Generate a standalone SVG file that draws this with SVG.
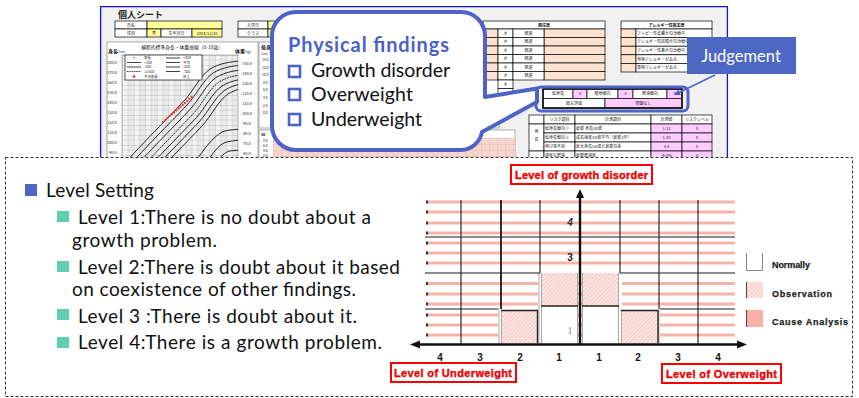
<svg xmlns="http://www.w3.org/2000/svg" width="859" height="398" viewBox="0 0 859 398">
<style>
  .jp{font-family:"Noto Sans CJK JP","Noto Sans",sans-serif;fill:#222}
  .t4{font-size:4px}
  .t5{font-size:4.8px}
  .c{text-anchor:middle}
  .cell{stroke:#000;stroke-width:0.7}
  .wh{fill:#fff}
  .yl{fill:#ffff99}
  .pc{fill:#fde3cf}
  .pk{fill:#ffccff}
  .body{font-family:Lato,"Open Sans",sans-serif;font-size:19px;fill:#111}
  .co{font-family:Lato,"Open Sans",sans-serif;font-size:19.5px;fill:#111}
  .chk{fill:#fff;stroke:#4d63c6;stroke-width:2.6}
  .stripe{stroke:#f7b3a9;stroke-width:3.2}
  .tick{stroke:#333;stroke-width:3.2}
  .gl{stroke:#1a1a1a;stroke-width:1.1;fill:none}
  .gray{stroke:#a8a8a8;stroke-width:1;fill:none}
  .axlab{font-family:"Liberation Sans",Arial,sans-serif;font-weight:bold;font-size:10px;fill:#111;text-anchor:middle}
  .redbox{fill:#fff;stroke:#ff0000;stroke-width:2}
  .redtx{font-family:"Liberation Sans",Arial,sans-serif;font-weight:bold;font-size:11px;fill:#ee0000;stroke:#ee0000;stroke-width:0.35}
  .leg{font-family:"Liberation Sans",Arial,sans-serif;font-weight:bold;font-size:9px;fill:#222;stroke:#222;stroke-width:0.25}
  .curve{fill:none;stroke:#111;stroke-width:0.9}
</style>
<defs>
  <clipPath id="sheetClip"><rect x="99" y="5" width="631" height="152"/></clipPath>
  <clipPath id="plotClip"><rect x="122" y="55" width="116" height="105"/></clipPath>
  <pattern id="chartGrid" width="11.6" height="10" patternUnits="userSpaceOnUse" x="122" y="55">
    <rect width="11.6" height="10" fill="#f4f4f4"/>
    <rect x="5.8" width="5.8" height="10" fill="#e9e9e9"/>
    <path d="M0,0 V10 M0,0 H11.6" stroke="#9a9a9a" stroke-width="0.6"/>
    <path d="M5.8,0 V10 M0,5 H11.6" stroke="#bdbdbd" stroke-width="0.4"/>
  </pattern>
  <pattern id="pinkGrid" width="8" height="6" patternUnits="userSpaceOnUse" x="273" y="138">
    <rect width="8" height="6" fill="#f7d6cf"/>
    <path d="M0,0 V6 M0,0 H8" stroke="#dba59c" stroke-width="0.6"/>
  </pattern>
  <pattern id="hatch" width="3" height="3" patternUnits="userSpaceOnUse" patternTransform="rotate(45)">
    <rect width="3" height="3" fill="#fde6e2"/>
    <line x1="0" y1="0" x2="0" y2="3" stroke="#f1b0a6" stroke-width="1.1"/>
  </pattern>
  <marker id="tip" viewBox="0 0 6 6" refX="5" refY="3" markerWidth="4" markerHeight="4" orient="auto">
    <path d="M0,0 L6,3 L0,6 Z" fill="#4d63c6"/>
  </marker>
</defs>

<rect width="859" height="398" fill="#fff"/>

<!-- individual record sheet (spreadsheet) -->
<g id="sheet" clip-path="url(#sheetClip)">
  <rect x="100" y="6" width="628" height="155" fill="#f1f1f1"/>
  <path d="M100.6,170 V6.6 H727.4 V170" fill="none" stroke="#1414e0" stroke-width="1.3"/>
  <text x="118" y="18" class="jp" font-size="9" font-weight="bold">個人シート</text>

  <g class="cell">
    <rect x="115" y="21" width="32" height="8" class="wh"/>
    <rect x="147" y="21" width="75" height="8" class="yl"/>
    <rect x="115" y="29" width="32" height="8" class="wh"/>
    <rect x="147" y="29" width="14" height="8" class="yl"/>
    <rect x="161" y="29" width="31" height="8" class="wh"/>
    <rect x="192" y="29" width="30" height="8" class="yl"/>
    <rect x="238" y="21" width="30" height="8" class="wh"/>
    <rect x="268" y="21" width="30" height="8" class="yl"/>
    <rect x="238" y="29" width="30" height="8" class="wh"/>
    <rect x="268" y="29" width="30" height="8" class="yl"/>
  </g>
  <g class="jp t4 c">
    <text x="131" y="26.5">氏名</text>
    <text x="131" y="34.5">性別</text>
    <text x="154" y="34.5">男</text>
    <text x="176.5" y="34.5">生年月日</text>
    <text x="207" y="34.5">2004/12/20</text>
    <text x="253" y="26.5">入学日</text>
    <text x="253" y="34.5">クラス</text>
  </g>

  <!-- growth chart panel -->
  <rect x="107" y="42" width="151" height="125" fill="#fff" stroke="#8a8a8a" stroke-width="0.7"/>
  <text x="182" y="49" class="jp t5 c">横断的標準身長・体重曲線（0-18歳）</text>
  <text x="108" y="53" class="jp" font-size="5" font-weight="bold">身長<tspan font-size="3.5" font-weight="normal">(cm)</tspan></text>
  <text x="235" y="53" class="jp" font-size="5" font-weight="bold">体重<tspan font-size="3.5" font-weight="normal">(kg)</tspan></text>
  <rect x="122" y="55" width="116" height="110" fill="url(#chartGrid)" stroke="#888" stroke-width="0.6"/>
  <g class="jp t4">
    <text x="107" y="64">180.0</text><text x="107" y="74">170.0</text><text x="107" y="84">160.0</text>
    <text x="107" y="94">150.0</text><text x="107" y="104">140.0</text><text x="107" y="114">130.0</text>
    <text x="107" y="124">120.0</text><text x="107" y="134">110.0</text><text x="107" y="144">100.0</text>
    <text x="109" y="154">90.0</text>
    <text x="242" y="65">150.0</text><text x="242" y="75">140.0</text><text x="242" y="85">130.0</text>
    <text x="242" y="95">120.0</text><text x="242" y="105">110.0</text><text x="242" y="115">100.0</text>
    <text x="243" y="125">90.0</text><text x="243" y="135">80.0</text><text x="243" y="145">70.0</text>
    <text x="243" y="155">60.0</text>
  </g>
  <g clip-path="url(#plotClip)">
    <g class="curve">
      <path id="hc" d="M126,162 C140,146 165,121 184,101 C194,90 200,76 210,69 C220,63 230,62 240,61"/>
      <use href="#hc" transform="translate(3,4)"/>
      <use href="#hc" transform="translate(6,8.5)"/>
      <use href="#hc" transform="translate(9,13)" stroke-dasharray="2 0.8"/>
      <use href="#hc" transform="translate(12,17)"/>
      <use href="#hc" transform="translate(15,21)"/>
      <use href="#hc" transform="translate(18,25)"/>
      <path d="M195,162 C205,148 212,138 222,132 C227,130 232,130 240,129"/>
      <path d="M207,162 C213,153 218,146 224,143 C229,141 233,141 240,140"/>
      <path d="M217,162 C221,156 225,152 230,151 L240,150"/>
    </g>
    <g fill="#ff2020">
      <circle cx="163" cy="122" r="1.1"/><circle cx="165.2" cy="120" r="1.1"/><circle cx="167.4" cy="118" r="1.1"/>
      <circle cx="169.6" cy="116.1" r="1.1"/><circle cx="171.8" cy="114.2" r="1.1"/><circle cx="174" cy="112.4" r="1.1"/>
      <circle cx="176.2" cy="110.5" r="1.1"/><circle cx="178.4" cy="108.6" r="1.1"/><circle cx="180.6" cy="106.7" r="1.1"/>
      <circle cx="182.8" cy="104.8" r="1.1"/><circle cx="185" cy="103" r="1.1"/><circle cx="187.2" cy="101" r="1.1"/>
      <circle cx="189.4" cy="99" r="1.1"/><circle cx="191.6" cy="97" r="1.1"/>
    </g>
  </g>
  <!-- chart legend -->
  <rect x="125" y="55" width="77" height="25" fill="#fff" stroke="#111" stroke-width="0.7"/>
  <g stroke="#111" stroke-width="0.8">
    <path d="M127,62.5 H141 M127,67 H141 M166,58 H180 M166,62.5 H180 M166,67 H180 M166,71.5 H180"/>
    <path d="M127,71.5 H141" stroke-dasharray="1.5 0.8"/>
  </g>
  <circle cx="134" cy="57.5" r="0.8" fill="#ff2020"/>
  <circle cx="134" cy="76.5" r="1.3" fill="#ff2020"/>
  <g class="jp" font-size="3.4">
    <text x="144" y="59">身長</text><text x="144" y="63.7">+1SD</text><text x="144" y="68.2">-1SD</text>
    <text x="144" y="72.7">-2.5SD</text><text x="144" y="77.7">予測身長</text>
    <text x="183" y="59">+2SD</text><text x="183" y="63.7">平均</text><text x="183" y="68.2">-2SD</text>
    <text x="183" y="72.7">-3SD</text><text x="183" y="77.7">体重</text>
  </g>

  <!-- short stature panel -->
  <rect x="259" y="42" width="240" height="86" fill="#fff" stroke="#8a8a8a" stroke-width="0.7"/>
  <text x="261" y="49" class="jp" font-size="5" font-weight="bold">低身長</text>
  <g class="jp" font-size="3.4">
    <text x="261" y="55">(cm)</text>
    <text x="262" y="61">14.0</text><text x="262" y="69">12.0</text><text x="262" y="76">10.0</text>
    <text x="263" y="84">8.0</text><text x="263" y="91">6.0</text><text x="263" y="99">4.0</text>
    <text x="263" y="107">2.0</text><text x="263" y="114">0.0</text>
  </g>
  <rect x="259" y="130" width="256" height="40" fill="#fff" stroke="#8a8a8a" stroke-width="0.7"/>
  <g class="jp" font-size="3.4">
    <text x="261" y="136" font-weight="bold">SD</text>
    <text x="263" y="142">8.0</text><text x="263" y="147">6.0</text><text x="263" y="152">4.0</text><text x="263" y="157">2.0</text>
  </g>
  <rect x="273" y="138" width="242" height="30" fill="url(#pinkGrid)"/>
  <g fill="#2fb04a"><rect x="311.5" y="150" width="1.4" height="2"/><rect x="328.5" y="150" width="1.4" height="2"/></g>

  <!-- medical history table -->
  <g class="cell">
    <rect x="483" y="21" width="122" height="8" class="wh"/>
    <g class="pc">
      <rect x="483" y="29" width="15" height="8.5"/><rect x="483" y="37.5" width="15" height="8.5"/>
      <rect x="483" y="46" width="15" height="8.5"/><rect x="483" y="54.5" width="15" height="8.5"/>
      <rect x="483" y="63" width="15" height="8.5"/><rect x="483" y="71.5" width="15" height="8.5"/>
      <rect x="544" y="29" width="61" height="8.5"/><rect x="544" y="37.5" width="61" height="8.5"/>
      <rect x="544" y="46" width="61" height="8.5"/><rect x="544" y="54.5" width="61" height="8.5"/>
      <rect x="544" y="63" width="61" height="8.5"/><rect x="544" y="71.5" width="61" height="8.5"/>
    </g>
    <g class="wh">
      <rect x="498" y="29" width="15" height="8.5"/><rect x="498" y="37.5" width="15" height="8.5"/>
      <rect x="498" y="46" width="15" height="8.5"/><rect x="498" y="54.5" width="15" height="8.5"/>
      <rect x="498" y="63" width="15" height="8.5"/><rect x="498" y="71.5" width="15" height="8.5"/>
      <rect x="498" y="80" width="15" height="8.5"/><rect x="498" y="88.5" width="15" height="8.5"/>
      <rect x="513" y="29" width="31" height="8.5"/><rect x="513" y="37.5" width="31" height="8.5"/>
      <rect x="513" y="46" width="31" height="8.5"/><rect x="513" y="54.5" width="31" height="8.5"/>
      <rect x="513" y="63" width="31" height="8.5"/><rect x="513" y="71.5" width="31" height="8.5"/>
    </g>
  </g>
  <g class="jp t4 c">
    <text x="544" y="26.5" font-weight="bold">既往歴</text>
    <text x="505.5" y="34.7">オ</text><text x="528.5" y="34.7">経過</text>
    <text x="505.5" y="43.2">オ</text><text x="528.5" y="43.2">経過</text>
    <text x="505.5" y="51.7">オ</text><text x="528.5" y="51.7">経過</text>
    <text x="505.5" y="60.2">オ</text><text x="528.5" y="60.2">経過</text>
    <text x="505.5" y="68.7">オ</text><text x="528.5" y="68.7">経過</text>
    <text x="505.5" y="77.2">オ</text><text x="528.5" y="77.2">経過</text>
    <text x="505.5" y="85.7">オ</text>
  </g>

  <!-- allergy table -->
  <g class="cell">
    <rect x="621" y="21" width="91" height="8" class="wh"/>
    <g class="pc">
      <rect x="621" y="29" width="15" height="8.6"/><rect x="621" y="37.6" width="15" height="8.6"/>
      <rect x="621" y="46.2" width="15" height="8.6"/><rect x="621" y="54.8" width="15" height="8.6"/>
      <rect x="621" y="63.4" width="15" height="8.6"/>
    </g>
    <g class="wh">
      <rect x="636" y="29" width="76" height="8.6"/><rect x="636" y="37.6" width="76" height="8.6"/>
      <rect x="636" y="46.2" width="76" height="8.6"/><rect x="636" y="54.8" width="76" height="8.6"/>
      <rect x="636" y="63.4" width="76" height="8.6"/>
    </g>
  </g>
  <g class="jp t4">
    <text x="666.5" y="26.5" font-weight="bold" text-anchor="middle">アレルギー性疾患歴</text>
    <text x="637" y="34.8">アトピー性皮膚炎の治療中</text>
    <text x="637" y="43.4">アレルギー性結膜炎の治療中</text>
    <text x="637" y="52">アレルギー性鼻炎の治療中</text>
    <text x="637" y="60.6">食物アレルギーがある</text>
    <text x="637" y="69.2">薬物アレルギーがある</text>
  </g>

  <!-- judgement table -->
  <g class="cell">
    <rect x="543" y="89" width="30" height="9.5" class="wh"/>
    <rect x="573" y="89" width="14" height="9.5" class="pk"/>
    <rect x="587" y="89" width="31" height="9.5" class="wh"/>
    <rect x="618" y="89" width="15" height="9.5" class="pk"/>
    <rect x="633" y="89" width="34" height="9.5" class="wh"/>
    <rect x="667" y="89" width="15" height="9.5" class="pk"/>
    <rect x="543" y="98.5" width="62" height="9.5" class="wh"/>
    <rect x="605" y="98.5" width="77" height="9.5" class="pk"/>
  </g>
  <rect x="543" y="89" width="139" height="19" fill="none" stroke="#000" stroke-width="1.5"/>
  <g class="jp t4 c">
    <text x="558" y="95.2">低身長</text><text x="580" y="95.2">0</text>
    <text x="602.5" y="95.2">痩身傾向</text><text x="625.5" y="95.2">0</text>
    <text x="650" y="95.2">肥満傾向</text><text x="674.5" y="95.2">0</text>
    <text x="574" y="104.7">総合評価</text><text x="643.5" y="104.7">問題なし</text>
  </g>

  <!-- risk table -->
  <g class="cell">
    <rect x="529" y="115" width="15" height="9" class="wh"/>
    <rect x="544" y="115" width="31" height="9" class="wh"/>
    <rect x="575" y="115" width="76" height="9" class="wh"/>
    <rect x="651" y="115" width="31" height="9" class="wh"/>
    <rect x="682" y="115" width="30" height="9" class="wh"/>
    <rect x="529" y="124" width="15" height="27" class="wh"/>
    <rect x="544" y="124" width="31" height="9" class="wh"/>
    <rect x="575" y="124" width="76" height="9" class="wh"/>
    <rect x="651" y="124" width="31" height="9" class="pk"/>
    <rect x="682" y="124" width="30" height="9" class="pk"/>
    <rect x="544" y="133" width="31" height="9" class="wh"/>
    <rect x="575" y="133" width="76" height="9" class="wh"/>
    <rect x="651" y="133" width="31" height="9" class="pk"/>
    <rect x="682" y="133" width="30" height="9" class="pk"/>
    <rect x="544" y="142" width="31" height="9" class="wh"/>
    <rect x="575" y="142" width="76" height="9" class="wh"/>
    <rect x="651" y="142" width="31" height="9" class="pk"/>
    <rect x="682" y="142" width="30" height="9" class="pk"/>
    <rect x="529" y="151" width="15" height="9" class="wh"/>
    <rect x="544" y="151" width="31" height="9" class="wh"/>
    <rect x="575" y="151" width="76" height="9" class="wh"/>
    <rect x="651" y="151" width="31" height="9" class="pk"/>
    <rect x="682" y="151" width="30" height="9" class="pk"/>
  </g>
  <g class="jp t4">
    <text x="559.5" y="121" text-anchor="middle">リスク項目</text>
    <text x="613" y="121" text-anchor="middle">計測項目</text>
    <text x="666.5" y="121" text-anchor="middle">計測値</text>
    <text x="697" y="121" text-anchor="middle">リスクレベル</text>
    <text x="536.5" y="133" text-anchor="middle">身</text>
    <text x="536.5" y="141" text-anchor="middle">長</text>
    <text x="545" y="130">低身長傾向①</text><text x="576" y="130">最新 身長SD値</text>
    <text x="666.5" y="130" text-anchor="middle">1.11</text><text x="697" y="130" text-anchor="middle">0</text>
    <text x="545" y="139">低身長傾向②</text><text x="576" y="139">成長速度SD値平均（最新1年）</text>
    <text x="666.5" y="139" text-anchor="middle">1.00</text><text x="697" y="139" text-anchor="middle">0</text>
    <text x="545" y="148">伸び率不良</text><text x="576" y="148">最大身長SD値と最新の差</text>
    <text x="666.5" y="148" text-anchor="middle">0.4</text><text x="697" y="148" text-anchor="middle">0</text>
    <text x="545" y="157">過度な肥満</text><text x="576" y="157">最新肥満度</text>
    <text x="666.5" y="157" text-anchor="middle">-6.0%</text><text x="697" y="157" text-anchor="middle">0</text>
  </g>
</g>

<!-- dashed frame around the level explanation -->
<rect x="5.5" y="157.5" width="847" height="239" fill="none" stroke="#333" stroke-width="1" stroke-dasharray="3 2"/>

<!-- judgement highlight and callout -->
<g id="judgement-frame">
  <rect x="536" y="87" width="152" height="24" rx="5" fill="none" stroke="#4d63c6" stroke-width="3"/>
</g>
<g id="callout">
  <path d="M296,12 H461 A24,24 0 0 1 485,36 V97 L537,88.5 L537,102 L482,132 A22,22 0 0 1 461,150 H296 A24,24 0 0 1 272,126 V36 A24,24 0 0 1 296,12 Z" fill="#fff" stroke="#4d63c6" stroke-width="4" stroke-linejoin="round"/>
  <text x="288" y="52" font-family="Lato,'Open Sans',sans-serif" font-size="20" font-weight="bold" fill="#4a62c4" textLength="161">Physical findings</text>
  <rect x="289" y="66" width="11" height="11" class="chk"/>
  <rect x="289" y="89" width="11" height="11" class="chk"/>
  <rect x="289" y="114" width="11" height="11" class="chk"/>
  <text x="311" y="77" class="co" textLength="139">Growth disorder</text>
  <text x="311" y="101" class="co" textLength="102">Overweight</text>
  <text x="311" y="126" class="co" textLength="111">Underweight</text>
</g>
<g id="judgement-label">
  <rect x="687" y="37" width="109" height="37" fill="#4d67c4"/>
  <text x="741" y="62" text-anchor="middle" font-family="Lato,'Open Sans',sans-serif" font-size="16.5" fill="#fff">Judgement</text>
</g>
<g id="connectors">
  <line x1="715" y1="75" x2="675" y2="94.5" stroke="#4d63c6" stroke-width="1.5" marker-end="url(#tip)"/>
</g>

<!-- level setting text -->
<g id="levels">
  <rect x="25" y="184" width="12" height="12" fill="#4f65c8"/>
  <text x="46" y="197" class="body" textLength="108">Level Setting</text>
  <g fill="#5fcfb0">
    <rect x="57" y="211" width="12" height="11"/>
    <rect x="57" y="261" width="12" height="11"/>
    <rect x="57" y="309" width="12" height="11"/>
    <rect x="57" y="337" width="12" height="11"/>
  </g>
  <text x="78" y="224" class="body" textLength="293">Level 1:There is no doubt about a</text>
  <text x="72" y="247" class="body" textLength="145">growth problem.</text>
  <text x="78" y="274" class="body" textLength="322">Level 2:There is doubt about it based</text>
  <text x="72" y="296" class="body" textLength="284">on coexistence of other findings.</text>
  <text x="78" y="323" class="body" textLength="279">Level 3 :There is doubt about it.</text>
  <text x="78" y="349" class="body" textLength="304">Level 4:There is a growth problem.</text>
</g>

<!-- level chart -->
<g id="level-chart">
  <g class="stripe">
    <path d="M427,202 H735 M427,212 H735 M427,223 H735 M427,233 H735 M427,243 H735 M427,253 H735 M427,263 H735 M427,283.5 H735 M427,294 H735 M427,304 H735 M427,315 H735 M427,325 H735 M427,335 H735"/>
  </g>
  <g class="tick">
    <path d="M426,202 H428 M426,212 H428 M426,223 H428 M426,233 H428 M426,243 H428 M426,253 H428 M426,263 H428 M426,283.5 H428 M426,294 H428 M426,304 H428 M426,315 H428 M426,325 H428 M426,335 H428"/>
  </g>
  <!-- cells near the origin -->
  <rect x="541" y="309" width="37" height="35" fill="#fff"/>
  <rect x="582" y="309" width="37" height="35" fill="#fff"/>
  <rect x="540" y="273" width="38" height="33" fill="url(#hatch)"/>
  <rect x="582" y="273" width="38" height="33" fill="url(#hatch)"/>
  <rect x="501" y="310" width="37" height="33" fill="url(#hatch)"/>
  <rect x="621" y="310" width="37" height="33" fill="url(#hatch)"/>
  <rect x="498" y="307" width="3" height="37" fill="#fff"/>
  <rect x="538" y="273" width="3" height="71" fill="#fff"/>
  <rect x="619" y="273" width="3" height="71" fill="#fff"/>
  <rect x="658" y="309" width="2" height="35" fill="#fff"/>
  <g class="gray">
    <path d="M539,273 V344 M541.5,273 V344 M577.5,273 V344 M582.5,273 V344 M618.5,273 V344 M621.5,310 V344 M501.5,310 V344 M499,308 V344 M659,310 V344"/>
  </g>
  <g stroke="#222" stroke-width="1.4" fill="none">
    <path d="M541,306 H578 M582,306 H619"/>
    <path d="M501,310.5 H537.5 V343 M621,310.5 H658 V343"/>
  </g>
  <g class="gl">
    <path d="M425,237 H735 M425,273 H540 M620,273 H735 M425,309 H498 M660,309 H735"/>
    <path d="M461,200 V344 M540,200 V273 M620,200 V273 M659,200 V309 M698,200 V344"/>
    <path d="M501,200 V309" stroke-width="1.8"/>
  </g>
  <text x="570" y="226" font-family="'Liberation Sans',Arial,sans-serif" font-size="10" font-weight="bold" font-style="italic" fill="#333" text-anchor="middle">4</text>
  <text x="570" y="261" font-family="'Liberation Sans',Arial,sans-serif" font-size="10" font-weight="bold" fill="#222" text-anchor="middle">3</text>
  <text x="570" y="334" font-family="'Liberation Serif',serif" font-size="10" fill="#888" text-anchor="middle">1</text>
  <!-- axes -->
  <g stroke="#111" stroke-width="2.4">
    <line x1="580" y1="344.5" x2="580" y2="196"/>
    <line x1="418" y1="344.5" x2="740" y2="344.5"/>
  </g>
  <g fill="#111">
    <path d="M580,189 L576,198 L584,198 Z"/>
    <path d="M410,344.5 L420,340.5 L420,348.5 Z"/>
    <path d="M747,344.5 L737,340.5 L737,348.5 Z"/>
  </g>
  <g class="axlab">
    <text x="440" y="361">4</text><text x="480" y="361">3</text><text x="520" y="361">2</text><text x="559" y="361">1</text>
    <text x="599" y="361">1</text><text x="638" y="361">2</text><text x="678" y="361">3</text><text x="718" y="361">4</text>
  </g>
  <!-- axis titles -->
  <rect x="511" y="165" width="141" height="19" class="redbox"/>
  <text x="515" y="178.5" class="redtx" textLength="133">Level of growth disorder</text>
  <rect x="391" y="363" width="125" height="19" class="redbox"/>
  <text x="394" y="376.5" class="redtx" textLength="118">Level of Underweight</text>
  <rect x="662" y="364" width="119" height="19" class="redbox"/>
  <text x="666" y="377.5" class="redtx" textLength="111">Level of Overweight</text>
  <!-- legend -->
  <path d="M746.5,253 V270.5 H762.5 V253" fill="none" stroke="#888" stroke-width="1"/>
  <rect x="746" y="282" width="17" height="16" fill="url(#hatch)"/>
  <rect x="746" y="310" width="17" height="17" fill="#f6b2a8"/>
  <path d="M746.5,282 V298 M746.5,310 V327" stroke="#555" stroke-width="1.2"/>
  <text x="772" y="267.5" class="leg" textLength="38">Normally</text>
  <text x="772" y="296.5" class="leg" textLength="60">Observation</text>
  <text x="772" y="324.5" class="leg" textLength="76">Cause Analysis</text>
</g>
</svg>
